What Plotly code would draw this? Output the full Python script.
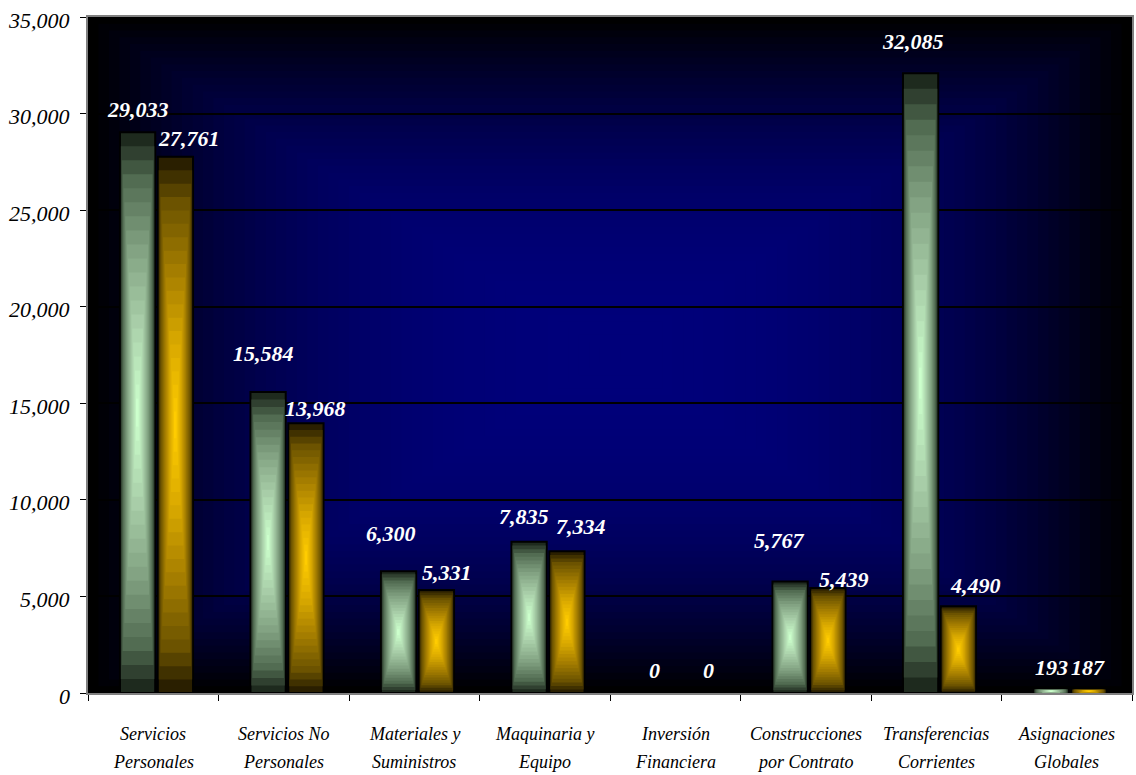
import plotly.graph_objects as go
import numpy as np

# ---- data ----
categories = ["Servicios<br>Personales", "Servicios No<br>Personales", "Materiales y<br>Suministros",
              "Maquinaria y<br>Equipo", "Inversión<br>Financiera", "Construcciones<br>por Contrato",
              "Transferencias<br>Corrientes", "Asignaciones<br>Globales"]
serie_1 = [29033, 15584, 6300, 7835, 0, 5767, 32085, 193]
serie_2 = [27761, 13968, 5331, 7334, 0, 5439, 4490, 187]
y_ticks = [0, 5000, 10000, 15000, 20000, 25000, 30000, 35000]

# ---- style ----
FONT = "Liberation Serif"
BAR_W = 0.27
OFF_1 = -0.255
OFF_2 = 0.035
N_LAYERS = 20
stops_1 = [(0.0, (30, 42, 30)), (0.15, (80, 106, 80)), (0.4, (128, 160, 128)), (0.7, (170, 208, 170)), (1.0, (204, 255, 204))]
stops_2 = [(0.0, (42, 31, 0)), (0.15, (106, 82, 0)), (0.4, (160, 122, 0)), (0.7, (216, 168, 0)), (1.0, (255, 204, 0))]
# label offsets in px (dx from bar centre, dy above bar top)
lab1_dx = [0, -5, -8, -5, -5, -11, -8, 0]
lab1_dy = [23, 39, 38, 25, 23, 41, 32, 22]
lab2_dx = [14, 10, 11, 14, 11, 16, 17, -1]
lab2_dy = [18, 15, 18, 25, 23, 8, 21, 22]


def interp(stops, t):
    for (t0, c0), (t1, c1) in zip(stops[:-1], stops[1:]):
        if t <= t1:
            u = (t - t0) / (t1 - t0) if t1 > t0 else 0
            c = [int(round(a + (b - a) * u)) for a, b in zip(c0, c1)]
            return "rgb(%d,%d,%d)" % tuple(c)
    return "rgb(%d,%d,%d)" % stops[-1][1]


fig = go.Figure()

for vals, off, stops in [(serie_1, OFF_1, stops_1), (serie_2, OFF_2, stops_2)]:
    v = np.array(vals, dtype=float)
    for k in range(N_LAYERS):
        f = k / N_LAYERS
        t = k / (N_LAYERS - 1)
        fig.add_trace(go.Bar(
            x=categories,
            y=v * (1 - f),
            base=v * f / 2,
            width=BAR_W * (1 - f),
            offset=off + BAR_W * f / 2,
            marker=dict(color=interp(stops, t),
                        line=dict(color="black", width=2 if k == 0 else 0)),
            hoverinfo="skip",
            showlegend=False,
        ))

# background gradient (rectangular, from centre)
shapes = []
NB = 50
for k in range(NB):
    f = k / NB
    t = k / (NB - 1)
    b = int(round(122 * (1 - (1 - t) ** 2.5)))
    shapes.append(dict(type="rect", xref="paper", yref="paper",
                       x0=f / 2, x1=1 - f / 2, y0=f / 2, y1=1 - f / 2,
                       fillcolor="rgb(0,0,%d)" % b, line=dict(width=0), layer="below"))

annotations = []
for vals, off, dxs, dys in [(serie_1, OFF_1, lab1_dx, lab1_dy), (serie_2, OFF_2, lab2_dx, lab2_dy)]:
    for i, val in enumerate(vals):
        annotations.append(dict(
            x=i + off + BAR_W / 2, y=val, xref="x", yref="y",
            text="{:,}".format(val), showarrow=False,
            xshift=dxs[i], yshift=dys[i], yanchor="middle", xanchor="center",
            font=dict(family=FONT, size=22, color="white", weight="bold", style="italic"),
        ))

# category labels (two lines each)
for i, cat in enumerate(categories):
    for j, line in enumerate(cat.split("<br>")):
        annotations.append(dict(
            x=i, y=0, xref="x", yref="paper", text=line, showarrow=False,
            yshift=-41 - 28 * j, yanchor="middle", xanchor="center",
            font=dict(family=FONT, size=18, color="black", style="italic"),
        ))

# y tick labels
for tv in y_ticks:
    annotations.append(dict(
        x=0, y=tv, xref="paper", yref="y", text="{:,}".format(tv), showarrow=False,
        xshift=-16, yshift=-3, xanchor="right", yanchor="middle",
        font=dict(family=FONT, size=22, color="black", style="italic"),
    ))

fig.update_layout(
    width=1136, height=775,
    margin=dict(l=88, r=2, t=17, b=82),
    paper_bgcolor="white",
    plot_bgcolor="black",
    barmode="overlay",
    shapes=shapes,
    annotations=annotations,
    showlegend=False,
    xaxis=dict(
        type="category", range=[-0.5, 7.5],
        tickson="boundaries", ticks="outside", ticklen=6, tickcolor="black", tickwidth=1,
        showticklabels=False,
        showgrid=False, showline=True, linecolor="#808080", linewidth=2, mirror=True,
    ),
    yaxis=dict(
        range=[0, 35000], tickvals=y_ticks,
        ticks="outside", ticklen=6, tickcolor="black",
        showticklabels=False,
        showgrid=True, gridcolor="black", gridwidth=2,
        showline=True, linecolor="#808080", linewidth=2, mirror=True,
        zeroline=False,
    ),
)

fig.write_html("out.html", config={"displayModeBar": False},
               post_script="document.body.style.margin='0';")
